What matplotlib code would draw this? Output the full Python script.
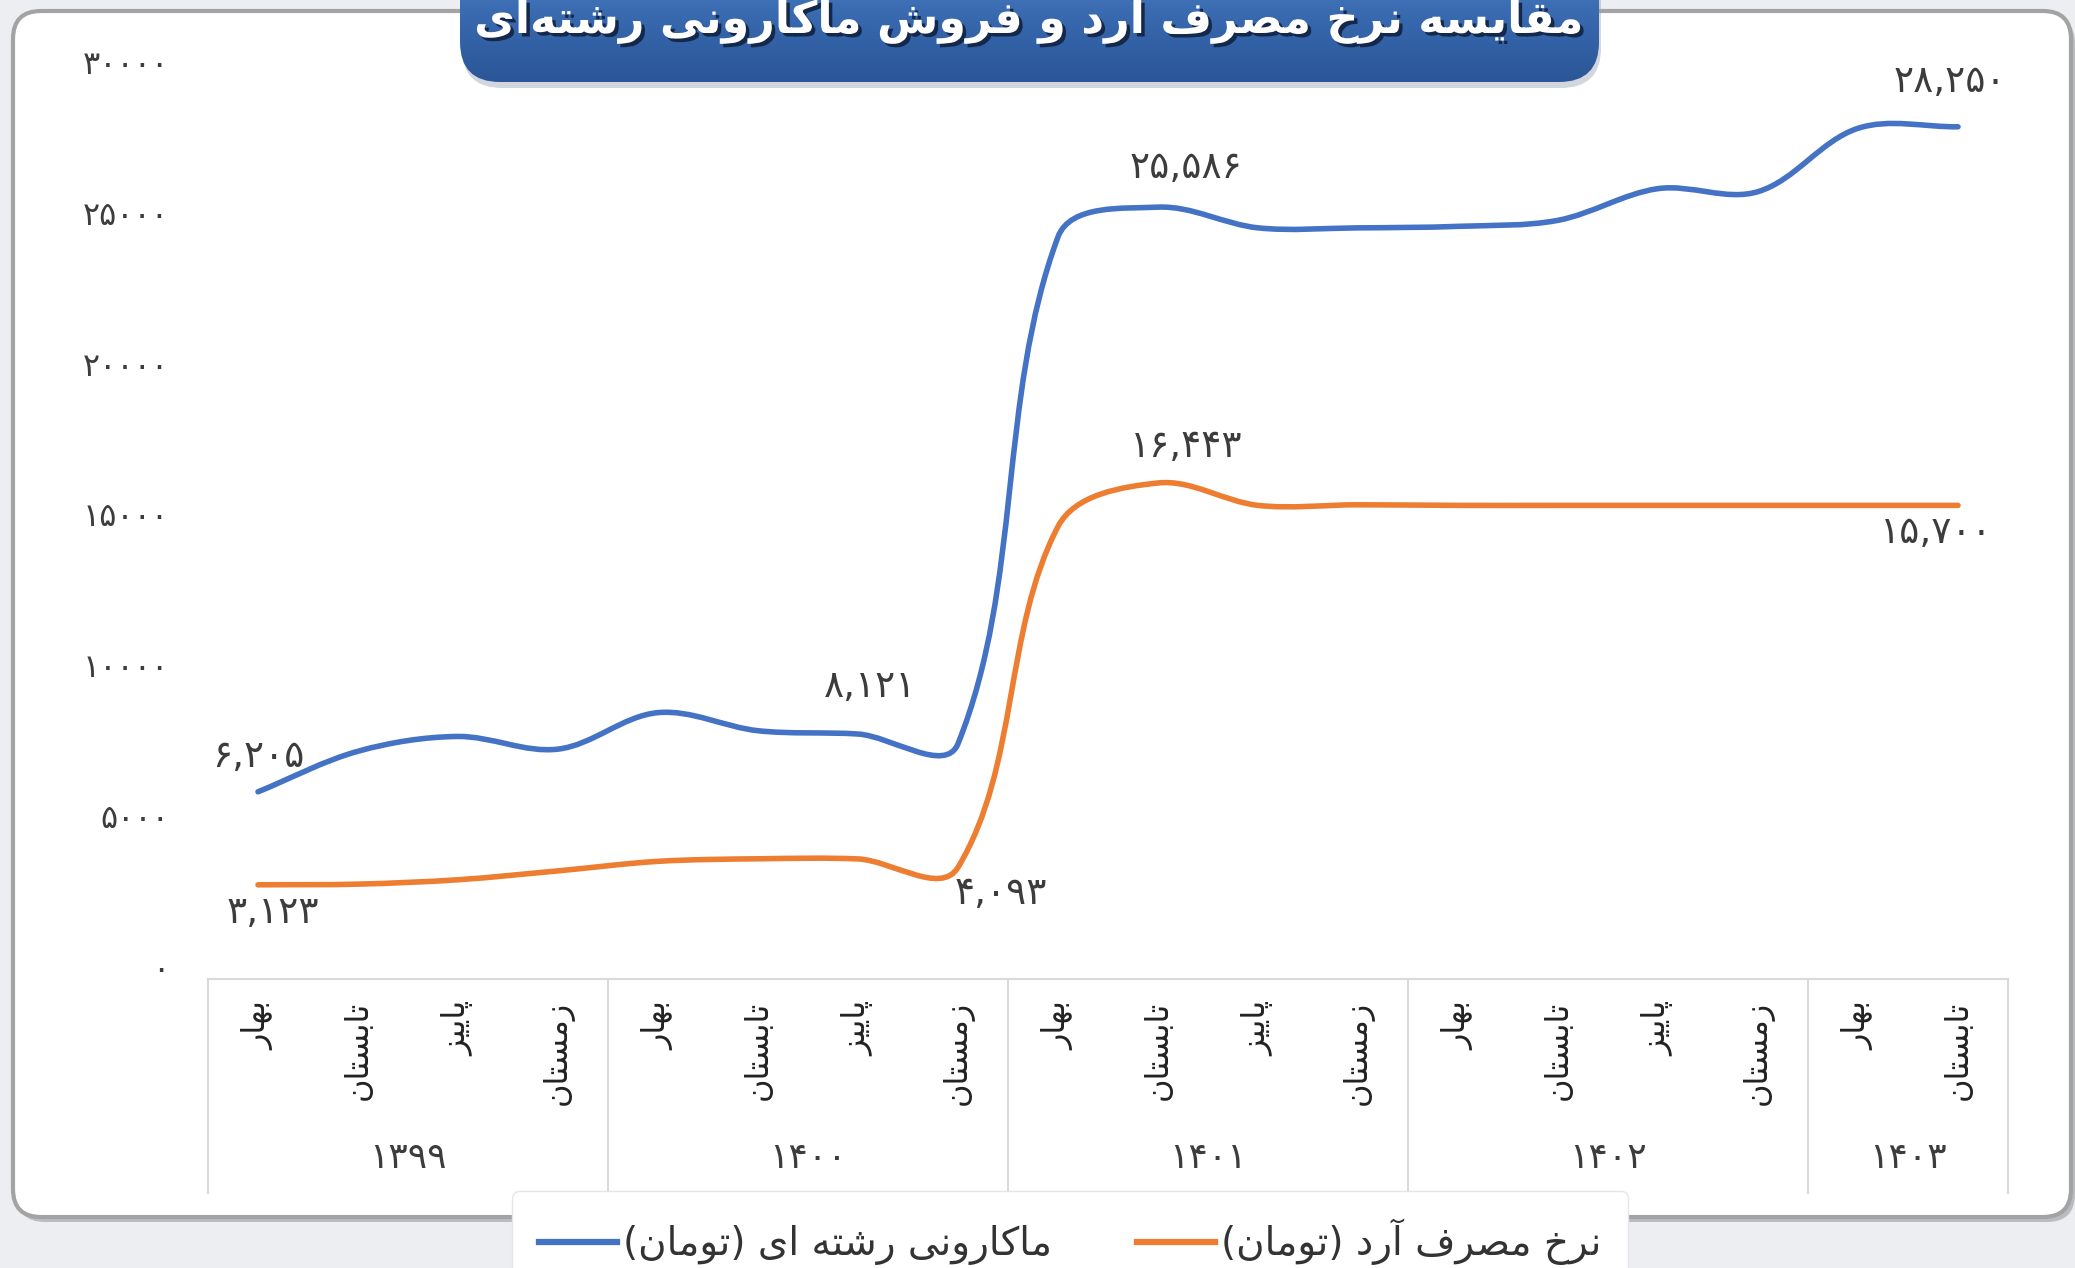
import numpy as np
import matplotlib
matplotlib.use("Agg")
import matplotlib.pyplot as plt
import matplotlib.patheffects as pe
from matplotlib.patches import FancyBboxPatch, PathPatch
from matplotlib.path import Path
from matplotlib.lines import Line2D
from matplotlib.colors import LinearSegmentedColormap
import matplotlib.transforms as mtransforms

# --- data ---
quarters = ["بهار", "تابستان", "پاییز", "زمستان"] * 4 + ["بهار", "تابستان"]
years = ["۱۳۹۹", "۱۴۰۰", "۱۴۰۱", "۱۴۰۲", "۱۴۰۳"]
quarters_per_year = [4, 4, 4, 4, 2]

macaroni = [6205, 7550, 8040, 7620, 8830, 8230, 8121, 7800, 24600,
            25586, 24900, 24900, 24950, 25150, 26200, 26100, 28200, 28250]
flour = [3123, 3145, 3290, 3585, 3900, 3985, 3980, 3700, 15000,
         16443, 15700, 15720, 15700, 15700, 15700, 15700, 15700, 15700]

# labelled points: (series, index, label value)
point_labels = [("macaroni", 0, 6205), ("flour", 0, 3123), ("macaroni", 6, 8121),
                ("flour", 7, 4093), ("macaroni", 9, 25586), ("flour", 9, 16443),
                ("macaroni", 17, 28250), ("flour", 17, 15700)]
label_offsets = [(0, 25), (11, -20), (9, 34), (31, -19), (20, 28), (20, 26), (-6, 32), (-16, -20)]

title = "مقایسه نرخ مصرف آرد و فروش ماکارونی رشته\u200cای"
legend_macaroni = "ماکارونی رشته ای (تومان)"
legend_flour = "نرخ مصرف آرد (تومان)"

BLUE = "#4472c4"
ORANGE = "#ed7d31"
TEXT = "#3c3c3c"

# --- minimal Persian shaping (matplotlib has no bidi / joining) ---
FORMS = {
    "\u0622": ("\uFE81", "\uFE82", None, None),
    "\u0627": ("\uFE8D", "\uFE8E", None, None),
    "\u0628": ("\uFE8F", "\uFE90", "\uFE91", "\uFE92"),
    "\u067E": ("\uFB56", "\uFB57", "\uFB58", "\uFB59"),
    "\u062A": ("\uFE95", "\uFE96", "\uFE97", "\uFE98"),
    "\u062E": ("\uFEA5", "\uFEA6", "\uFEA7", "\uFEA8"),
    "\u062F": ("\uFEA9", "\uFEAA", None, None),
    "\u0631": ("\uFEAD", "\uFEAE", None, None),
    "\u0632": ("\uFEAF", "\uFEB0", None, None),
    "\u0633": ("\uFEB1", "\uFEB2", "\uFEB3", "\uFEB4"),
    "\u0634": ("\uFEB5", "\uFEB6", "\uFEB7", "\uFEB8"),
    "\u0635": ("\uFEB9", "\uFEBA", "\uFEBB", "\uFEBC"),
    "\u0641": ("\uFED1", "\uFED2", "\uFED3", "\uFED4"),
    "\u0642": ("\uFED5", "\uFED6", "\uFED7", "\uFED8"),
    "\u06A9": ("\uFB8E", "\uFB8F", "\uFB90", "\uFB91"),
    "\u0645": ("\uFEE1", "\uFEE2", "\uFEE3", "\uFEE4"),
    "\u0646": ("\uFEE5", "\uFEE6", "\uFEE7", "\uFEE8"),
    "\u0647": ("\uFEE9", "\uFEEA", "\uFEEB", "\uFEEC"),
    "\u0648": ("\uFEED", "\uFEEE", None, None),
    "\u06CC": ("\uFBFC", "\uFBFD", "\uFBFE", "\uFBFF"),
}


def fa(text):
    out = []
    for i, ch in enumerate(text):
        forms = FORMS.get(ch)
        if forms is None:
            if ch != "\u200c":
                out.append(ch)
            continue
        prev = text[i - 1] if i > 0 else ""
        nxt = text[i + 1] if i + 1 < len(text) else ""
        join_prev = prev in FORMS and FORMS[prev][2] is not None
        join_next = forms[2] is not None and nxt in FORMS
        if join_prev and join_next:
            out.append(forms[3])
        elif join_prev:
            out.append(forms[1])
        elif join_next:
            out.append(forms[2])
        else:
            out.append(forms[0])
    return "".join(reversed(out)).translate(str.maketrans("()", ")("))


def fa_num(v, commas=True):
    s = f"{v:,}" if commas else str(v)
    return s.translate(str.maketrans("0123456789", "۰۱۲۳۴۵۶۷۸۹"))


def smooth_path(ax, xs, ys, k=1 / 3):
    # Excel-like smooth line: bezier through the points, tangents in screen space
    pts = ax.transData.transform(np.column_stack([xs, ys]))
    n = len(pts)
    tang = np.zeros_like(pts)
    for i in range(n):
        a = pts[max(i - 1, 0)]
        b = pts[min(i + 1, n - 1)]
        d = b - a
        tang[i] = d / np.hypot(*d)
    verts = [pts[0]]
    codes = [Path.MOVETO]
    for i in range(n - 1):
        seg = np.hypot(*(pts[i + 1] - pts[i])) * k
        verts += [pts[i] + tang[i] * seg, pts[i + 1] - tang[i + 1] * seg, pts[i + 1]]
        codes += [Path.CURVE4] * 3
    verts = ax.transData.inverted().transform(np.array(verts))
    return Path(verts, codes)


W, H = 2075, 1268
fig = plt.figure(figsize=(W / 100, H / 100), dpi=100, facecolor="#eceef1")

# background layer in image pixel coordinates
bg = fig.add_axes([0, 0, 1, 1], zorder=0)
bg.axis("off")

bg.add_patch(FancyBboxPatch((17, 16), 2058, 1206, boxstyle="round,pad=0,rounding_size=28",
                            fc="#b9bcc0", ec="none"))
bg.add_patch(FancyBboxPatch((13, 11), 2058, 1206, boxstyle="round,pad=0,rounding_size=28",
                            fc="white", ec="#a3a3a3", lw=3))

bg.add_patch(FancyBboxPatch((462, -40), 1139, 128, boxstyle="round,pad=0,rounding_size=40",
                            fc="#9aa6b8", ec="none", alpha=0.45))
title_box = FancyBboxPatch((460, -40), 1139, 122, boxstyle="round,pad=0,rounding_size=40",
                           fc="none", ec="none")
bg.add_patch(title_box)
grad = np.linspace(0, 1, 256).reshape(-1, 1)
cmap = LinearSegmentedColormap.from_list("title", ["#4d82c8", "#3767ad", "#2b5697"])
img = bg.imshow(grad, extent=[460, 1599, 82, -40], cmap=cmap, aspect="auto", origin="upper",
                zorder=2)
img.set_clip_path(title_box)
bg.set_xlim(0, W)
bg.set_ylim(H, 0)

bg.text(1030, 33, fa(title), ha="center", va="baseline", fontsize=32, fontweight="bold",
        color="white", zorder=3,
        path_effects=[pe.withSimplePatchShadow(offset=(2.5, -2.5), shadow_rgbFace="#13284a", alpha=1)])

# main plot: y=0 sits on the top line of the category box
ax = fig.add_axes([208 / W, 1 - 979 / H, 1800 / W, 905 / H], zorder=2)
ax.patch.set_alpha(0)
ax.set_xlim(-0.5, len(quarters) - 0.5)
ax.set_ylim(0, 30000)
for s in ax.spines.values():
    s.set_visible(False)
ax.set_xticks([])
yt = np.arange(0, 30001, 5000)
ax.set_yticks(yt)
ax.set_yticklabels([fa_num(int(t), commas=False) for t in yt], fontsize=23, color=TEXT)
ax.tick_params(axis="y", length=0, pad=28)
# the reference's tick labels sit a little above their levels
lift = mtransforms.ScaledTranslation(0, 0.12, fig.dpi_scale_trans)
for lab in ax.get_yticklabels():
    lab.set_transform(lab.get_transform() + lift)

x = np.arange(len(quarters))
series = {"macaroni": macaroni, "flour": flour}
for vals, color in [(flour, ORANGE), (macaroni, BLUE)]:
    ax.add_patch(PathPatch(smooth_path(ax, x, vals), fill=False, ec=color, lw=4,
                           capstyle="round", joinstyle="round"))

for (name, i, val), (dx, dy) in zip(point_labels, label_offsets):
    ax.annotate(fa_num(val), xy=(i, series[name][i]), xytext=(dx, dy), textcoords="offset points",
                ha="center", va="center", fontsize=27, color=TEXT)

# multi-level category axis below the plot
tr = mtransforms.blended_transform_factory(ax.transData, fig.transFigure)
y_top, y_bot = 1 - 979 / H, 1 - 1193 / H
grid_c = "#d9d9d9"
ax.plot([-0.5, len(quarters) - 0.5], [y_top, y_top], transform=tr, color=grid_c, lw=1.5, clip_on=False)
edges = np.concatenate([[0], np.cumsum(quarters_per_year)]) - 0.5
for e in edges:
    ax.plot([e, e], [y_top, y_bot], transform=tr, color=grid_c, lw=1.5, clip_on=False)
for i, q in enumerate(quarters):
    ax.text(i, 1 - 1001 / H, fa(q), transform=tr, rotation=90, ha="center", va="top",
            fontsize=23, color="#222222")
for yr, a, b in zip(years, edges[:-1], edges[1:]):
    ax.text((a + b) / 2, 1 - 1158 / H, yr, transform=tr, ha="center", va="center",
            fontsize=26, color=TEXT)

handles = [Line2D([], [], color=BLUE, lw=4.5), Line2D([], [], color=ORANGE, lw=4.5)]
leg = fig.legend(handles, [fa(legend_macaroni), fa(legend_flour)], loc="center",
                 bbox_to_anchor=(1070 / W, 1 - 1242 / H), ncol=2, fontsize=28,
                 frameon=True, fancybox=True, facecolor="white", edgecolor="#e4e6ea",
                 framealpha=1, handlelength=2.0, handletextpad=0.15, columnspacing=2.2,
                 borderpad=0.7)
for t in leg.get_texts():
    t.set_color("#333333")

fig.savefig("out.png", dpi=100, facecolor=fig.get_facecolor())
